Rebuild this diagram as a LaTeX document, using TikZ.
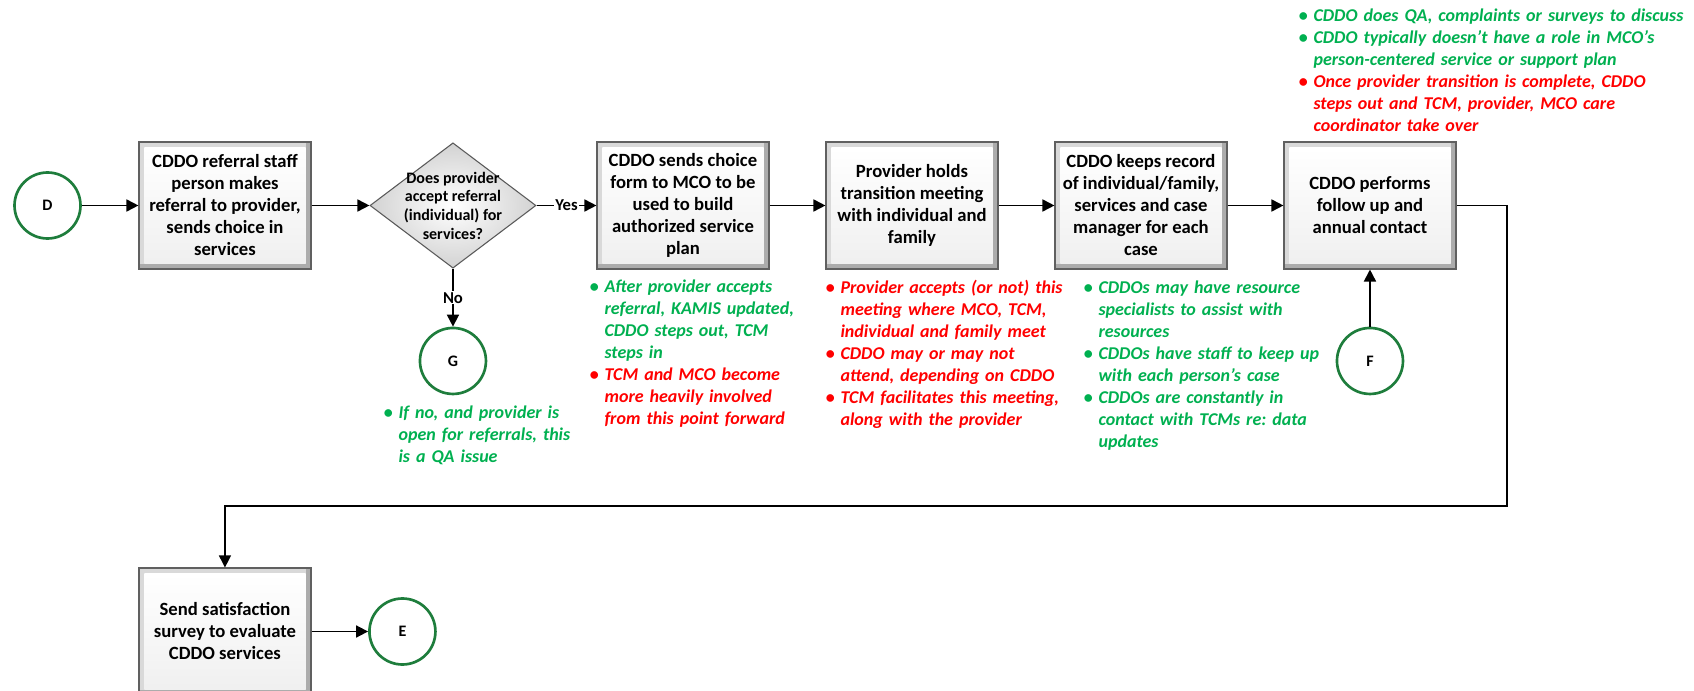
\documentclass[tikz,border=0pt]{standalone}
\usepackage{fontspec}
\setmainfont{Carlito}
\usetikzlibrary{shapes.geometric,arrows.meta}

\definecolor{notegreen}{RGB}{0,176,80}
\definecolor{notered}{RGB}{255,0,0}
\definecolor{ringgreen}{RGB}{30,125,60}

\newcommand{\boxfont}{\bfseries\fontsize{14}{16.5}\selectfont}
\newcommand{\askfont}{\bfseries\fontsize{12}{14}\selectfont}
\newcommand{\notefont}{\bfseries\itshape\fontsize{13.5}{16.5}\selectfont\frenchspacing}
\newcommand{\gb}{\makebox[11pt][l]{\upshape\textbullet}}
\newcommand{\ind}{\hspace*{11pt}}

\begin{document}
\begin{tikzpicture}[x=0.75pt,y=-0.75pt,node distance=171.75pt,>={Triangle[length=9pt,width=9pt]},line width=1.3pt,
        procbox/.style={rectangle, draw=gray!75!black, line width=0.8pt, minimum width=129pt, minimum height=95.25pt, inner sep=0pt, align=center, font=\boxfont,
            path picture={
                \fill[gray!65] (path picture bounding box.south west) rectangle (path picture bounding box.north east);
                \fill[gray!30] ([yshift=4pt]path picture bounding box.south west) rectangle ([xshift=-4pt]path picture bounding box.north east);
                \shade[top color=white, bottom color=gray!12] ([shift={(4pt,4pt)}]path picture bounding box.south west) rectangle ([shift={(-4pt,-4pt)}]path picture bounding box.north east);
            }},
        decision/.style={diamond, draw=gray!70!black, line width=0.8pt, inner color=white, outer color=gray!35, minimum width=124.5pt, minimum height=94pt, inner sep=0pt},
        connector/.style={circle, draw=ringgreen, line width=2pt, fill=white, minimum size=49.5pt, inner sep=0pt, font=\bfseries\fontsize{12}{14}\selectfont},
        note/.style={anchor=north west, text width=330pt, align=left, inner sep=0pt, font=\notefont}]
    \useasboundingbox (0,0) rectangle (1694,691);

    % top row
    \node (d) [connector] at (47.5,205.5) {D};
    \node (referral) [procbox, right of=d, node distance=133.1pt] {CDDO referral staff\\person makes\\referral to provider,\\sends choice in\\services};
    \node (accept) [decision, right of=referral, node distance=171pt, label={[align=center, font=\askfont]center:Does provider\\accept referral\\(individual) for\\services?}] {};
    \node (choice) [procbox, right of=accept, node distance=172.5pt] {CDDO sends choice\\form to MCO to be\\used to build\\authorized service\\plan};
    \node (meeting) [procbox, right of=choice] {Provider holds\\transition meeting\\with individual and\\family};
    \node (record) [procbox, right of=meeting] {CDDO keeps record\\of individual/family,\\services and case\\manager for each\\case};
    \node (followup) [procbox, right of=record] {CDDO performs\\follow up and\\annual contact};
    \node (g) [connector, below of=accept, node distance=116.6pt] {G};
    \node (f) [connector, below of=followup, node distance=116.6pt] {F};

    % bottom row
    \node (survey) [procbox, below of=referral, node distance=319.5pt] {Send satisfaction\\survey to evaluate\\CDDO services};
    \node (e) [connector, right of=survey, node distance=133.1pt] {E};
    \coordinate (turn) at (1507,506);

    % notes
    \node (gnote) [note] at (383,405) {\color{notegreen}\gb If no, and provider is\\\ind open for referrals, this\\\ind is a QA issue};
    \node (choicenote) [note] at (589,279) {\color{notegreen}\gb After provider accepts\\\ind referral, KAMIS updated,\\\ind CDDO steps out, TCM\\\ind steps in\\\color{notered}\gb TCM and MCO become\\\ind more heavily involved\\\ind from this point forward};
    \node (meetingnote) [note] at (825,279) {\color{notered}\gb Provider accepts (or not) this\\\ind meeting where MCO, TCM,\\\ind individual and family meet\\\gb CDDO may or may not\\\ind attend, depending on CDDO\\\gb TCM facilitates this meeting,\\\ind along with the provider};
    \node (recordnote) [note] at (1083,280) {\color{notegreen}\gb CDDOs may have resource\\\ind specialists to assist with\\\ind resources\\\gb CDDOs have staff to keep up\\\ind with each person's case\\\gb CDDOs are constantly in\\\ind contact with TCMs re: data\\\ind updates};
    \node (topnote) [note] at (1298,8) {\color{notegreen}\gb CDDO does QA, complaints or surveys to discuss\\\gb CDDO typically doesn't have a role in MCO's\\\ind person-centered service or support plan\\\color{notered}\gb Once provider transition is complete, CDDO\\\ind steps out and TCM, provider, MCO care\\\ind coordinator take over};

    \draw[->] (d) -- (referral);
    \draw[->] (referral) -- (accept);
    \draw[->] (accept) -- node[fill=white, inner sep=1pt, font=\bfseries\fontsize{12.5}{14}\selectfont] {Yes} (choice);
    \draw[->] (accept) -- node[fill=white, inner sep=1pt, font=\bfseries\fontsize{12.5}{14}\selectfont] {No} (g);
    \draw[->] (choice) -- (meeting);
    \draw[->] (meeting) -- (record);
    \draw[->] (record) -- (followup);
    \draw[->] (f) -- (followup);
    \draw[->, line width=0.9pt] (followup.east) -| (turn) -| (survey.north);
    \draw[->] (survey) -- (e);
\end{tikzpicture}
\end{document}
